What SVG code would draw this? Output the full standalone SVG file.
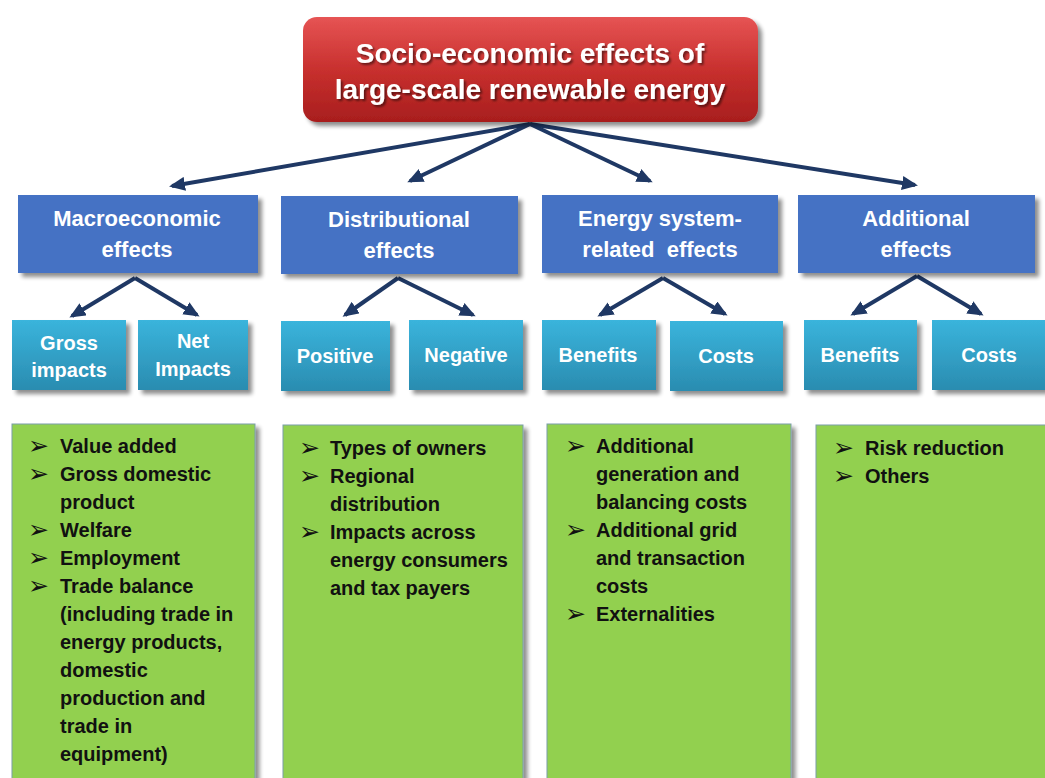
<svg xmlns="http://www.w3.org/2000/svg" width="1045" height="778" viewBox="0 0 1045 778">
<defs>
<linearGradient id="gRed" x1="0" y1="0" x2="0" y2="1">
<stop offset="0" stop-color="#E65454"/><stop offset="0.5" stop-color="#C8302E"/><stop offset="1" stop-color="#A81E1E"/>
</linearGradient>
<linearGradient id="gCyan" x1="0" y1="0" x2="0" y2="1">
<stop offset="0" stop-color="#3AB4DC"/><stop offset="1" stop-color="#2A8CB0"/>
</linearGradient>
<filter id="sh" x="-10%" y="-10%" width="130%" height="130%">
<feGaussianBlur in="SourceAlpha" stdDeviation="2"/>
<feOffset dx="4" dy="4" result="b"/>
<feComponentTransfer><feFuncA type="linear" slope="0.45"/></feComponentTransfer>
<feMerge><feMergeNode/><feMergeNode in="SourceGraphic"/></feMerge>
</filter>
<filter id="tsh" x="-5%" y="-20%" width="110%" height="150%">
<feGaussianBlur in="SourceAlpha" stdDeviation="1.2"/>
<feOffset dx="1.5" dy="2" result="b"/>
<feComponentTransfer><feFuncA type="linear" slope="0.5"/></feComponentTransfer>
<feMerge><feMergeNode/><feMergeNode in="SourceGraphic"/></feMerge>
</filter>
<marker id="ah" markerWidth="16" markerHeight="14" refX="13" refY="7" orient="auto" markerUnits="userSpaceOnUse">
<path d="M0,0 L16,7 L0,14 Z" fill="#1F3864"/>
</marker>
</defs>
<style>
.lbl{font-family:"Liberation Sans",Arial,sans-serif;font-weight:bold;fill:#fff;text-anchor:middle;white-space:pre}
.lst{font-family:"Liberation Sans",Arial,sans-serif;font-weight:bold;font-size:20px;fill:#111}
.bul{font-family:"DejaVu Sans",sans-serif;font-weight:normal;font-size:25px}
.blue{fill:#4472C4}
.cyan{fill:url(#gCyan)}
.green{fill:#92D050;stroke:#7A9EA8;stroke-width:1}
.con{stroke:#1F3864;stroke-width:4;fill:none;marker-end:url(#ah)}
</style>
<rect width="1045" height="778" fill="#fff"/>

<g id="connectors">
<line class="con" x1="530" y1="124" x2="172" y2="186"/>
<line class="con" x1="530" y1="124" x2="410" y2="181"/>
<line class="con" x1="530" y1="124" x2="650" y2="181"/>
<line class="con" x1="530" y1="124" x2="915" y2="185"/>
<polyline class="con" points="135,278 72,316"/>
<polyline class="con" points="135,278 197,315"/>
<polyline class="con" points="398,278 345,315"/>
<polyline class="con" points="398,278 473,315"/>
<polyline class="con" points="663,278 600,315"/>
<polyline class="con" points="663,278 725,314"/>
<polyline class="con" points="917,276 853,314"/>
<polyline class="con" points="917,276 981,314"/>
</g>

<g id="root">
<rect x="303" y="17" width="455" height="105" rx="14" fill="url(#gRed)" filter="url(#sh)"/>
<g filter="url(#tsh)">
<text class="lbl" x="530" y="63" font-size="28">Socio-economic effects of</text>
<text class="lbl" x="530" y="99" font-size="28">large-scale renewable energy</text>
</g>
</g>

<g id="macro">
<rect class="blue" x="18" y="195" width="240" height="78" filter="url(#sh)"/>
<text class="lbl" x="137" y="226" font-size="22">Macroeconomic</text>
<text class="lbl" x="137" y="257" font-size="22">effects</text>
</g>
<g id="distributional">
<rect class="blue" x="281" y="196" width="237" height="78" filter="url(#sh)"/>
<text class="lbl" x="399" y="227" font-size="22">Distributional</text>
<text class="lbl" x="399" y="258" font-size="22">effects</text>
</g>
<g id="energy">
<rect class="blue" x="542" y="195" width="236" height="78" filter="url(#sh)"/>
<text class="lbl" x="660" y="226" font-size="22">Energy system-</text>
<text class="lbl" x="660" y="257" font-size="22">related  effects</text>
</g>
<g id="additional">
<rect class="blue" x="798" y="195" width="237" height="78" filter="url(#sh)"/>
<text class="lbl" x="916" y="226" font-size="22">Additional</text>
<text class="lbl" x="916" y="257" font-size="22">effects</text>
</g>

<g id="gross">
<rect class="cyan" x="12" y="320" width="114" height="70" filter="url(#sh)"/>
<text class="lbl" x="69" y="350" font-size="20">Gross</text>
<text class="lbl" x="69" y="377" font-size="20">impacts</text>
</g>
<g id="net">
<rect class="cyan" x="138" y="320" width="110" height="70" filter="url(#sh)"/>
<text class="lbl" x="193" y="348" font-size="20">Net</text>
<text class="lbl" x="193" y="376" font-size="20">Impacts</text>
</g>
<g id="positive">
<rect class="cyan" x="281" y="321" width="109" height="70" filter="url(#sh)"/>
<text class="lbl" x="335" y="363" font-size="20">Positive</text>
</g>
<g id="negative">
<rect class="cyan" x="409" y="320" width="114" height="70" filter="url(#sh)"/>
<text class="lbl" x="466" y="362" font-size="20">Negative</text>
</g>
<g id="benefits1">
<rect class="cyan" x="542" y="320" width="114" height="70" filter="url(#sh)"/>
<text class="lbl" x="598" y="362" font-size="20">Benefits</text>
</g>
<g id="costs1">
<rect class="cyan" x="670" y="321" width="113" height="70" filter="url(#sh)"/>
<text class="lbl" x="726" y="363" font-size="20">Costs</text>
</g>
<g id="benefits2">
<rect class="cyan" x="804" y="320" width="113" height="70" filter="url(#sh)"/>
<text class="lbl" x="860" y="362" font-size="20">Benefits</text>
</g>
<g id="costs2">
<rect class="cyan" x="932" y="320" width="116" height="70" filter="url(#sh)"/>
<text class="lbl" x="989" y="362" font-size="20">Costs</text>
</g>

<g id="list1">
<rect class="green" x="12" y="424" width="243" height="360" filter="url(#sh)"/>
<text class="lst">
<tspan class="bul" x="28" y="454">➢</tspan><tspan x="60" y="453">Value added</tspan>
<tspan class="bul" x="28" y="482">➢</tspan><tspan x="60" y="481">Gross domestic</tspan>
<tspan x="60" y="509">product</tspan>
<tspan class="bul" x="28" y="538">➢</tspan><tspan x="60" y="537">Welfare</tspan>
<tspan class="bul" x="28" y="566">➢</tspan><tspan x="60" y="565">Employment</tspan>
<tspan class="bul" x="28" y="594">➢</tspan><tspan x="60" y="593">Trade balance</tspan>
<tspan x="60" y="621">(including trade in</tspan>
<tspan x="60" y="649">energy products,</tspan>
<tspan x="60" y="677">domestic</tspan>
<tspan x="60" y="705">production and</tspan>
<tspan x="60" y="733">trade in</tspan>
<tspan x="60" y="761">equipment)</tspan>
</text>
</g>
<g id="list2">
<rect class="green" x="283" y="425" width="240" height="360" filter="url(#sh)"/>
<text class="lst">
<tspan class="bul" x="299" y="456">➢</tspan><tspan x="330" y="455">Types of owners</tspan>
<tspan class="bul" x="299" y="484">➢</tspan><tspan x="330" y="483">Regional</tspan>
<tspan x="330" y="511">distribution</tspan>
<tspan class="bul" x="299" y="540">➢</tspan><tspan x="330" y="539">Impacts across</tspan>
<tspan x="330" y="567">energy consumers</tspan>
<tspan x="330" y="595">and tax payers</tspan>
</text>
</g>
<g id="list3">
<rect class="green" x="547" y="424" width="244" height="360" filter="url(#sh)"/>
<text class="lst">
<tspan class="bul" x="565" y="454">➢</tspan><tspan x="596" y="453">Additional</tspan>
<tspan x="596" y="481">generation and</tspan>
<tspan x="596" y="509">balancing costs</tspan>
<tspan class="bul" x="565" y="538">➢</tspan><tspan x="596" y="537">Additional grid</tspan>
<tspan x="596" y="565">and transaction</tspan>
<tspan x="596" y="593">costs</tspan>
<tspan class="bul" x="565" y="622">➢</tspan><tspan x="596" y="621">Externalities</tspan>
</text>
</g>
<g id="list4">
<rect class="green" x="816" y="425" width="240" height="360" filter="url(#sh)"/>
<text class="lst">
<tspan class="bul" x="833" y="456">➢</tspan><tspan x="865" y="455">Risk reduction</tspan>
<tspan class="bul" x="833" y="484">➢</tspan><tspan x="865" y="483">Others</tspan>
</text>
</g>
</svg>
